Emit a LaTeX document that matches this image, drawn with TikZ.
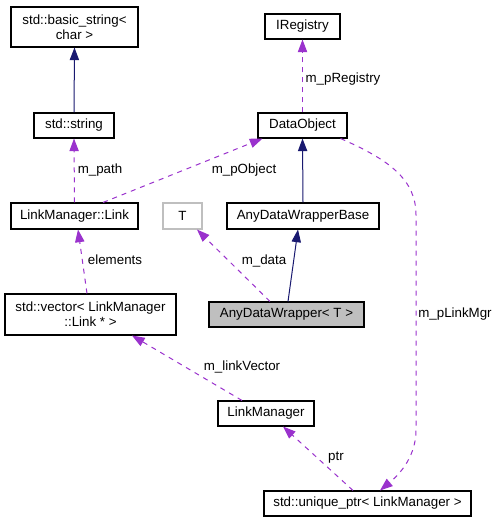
\documentclass[tikz,border=0pt]{standalone}
\usepackage{fontspec}
\setmainfont{Liberation Sans}
\usetikzlibrary{arrows.meta,calc,positioning}
\definecolor{inhblue}{HTML}{191970}
\definecolor{usepurple}{HTML}{9A32CD}
\definecolor{tmplgrey}{HTML}{BFBFBF}

\begin{document}
\begin{tikzpicture}[x=0.75pt,y=-0.75pt,
    cls/.style={draw, line width=0.8pt, fill=white, inner sep=0pt, align=center, font=\fontsize{10}{11}\selectfont},
    sz/.style 2 args={minimum width=#1*0.75pt, minimum height=#2*0.75pt},
    inh/.style={draw=inhblue, line width=0.75pt, -{Triangle[length=9.5pt,width=7pt]}},
    usage/.style={draw=usepurple, line width=0.75pt, dash pattern=on 3.75pt off 3.75pt, -{Triangle[length=9.5pt,width=7pt]}},
    lbl/.style={inner sep=0pt, font=\fontsize{10}{11}\selectfont}]
    \fill[white] (0,0) rectangle (497,523);
    \useasboundingbox (0,0) rectangle (497,523);
    % classes
    \node[cls, sz={127}{40}] (bstr) at (74.5,27) {std::basic\_string<\\char >};
    \node[cls, sz={80}{25}] (str) at (74,125.5) {std::string};
    \node[cls, sz={127}{26}] (link) at (74.5,216) {LinkManager::Link};
    \node[cls, draw=tmplgrey, sz={39}{26}] (tparam) at (182.5,216) {T};
    \node[cls, sz={75}{25}] (ireg) at (302.5,26.5) {IRegistry};
    \node[cls, sz={89}{25}] (dobj) at (302.5,125.5) {DataObject};
    \node[cls, sz={152}{26}] (adwb) at (303,216) {AnyDataWrapperBase};
    \node[cls, fill=tmplgrey, sz={155}{25}] (adw) at (286.5,314.5) {AnyDataWrapper< T >};
    \node[cls, sz={171}{41}] (vec) at (90.5,314.5) {std::vector< LinkManager\\::Link * >};
    \node[cls, sz={96}{25}] (lmgr) at (266,413.5) {LinkManager};
    \node[cls, sz={207}{25}] (uptr) at (367.5,503.5) {std::unique\_ptr< LinkManager >};
    % inheritance
    \draw[inh] (str.north) -- (bstr.south);
    \draw[inh] (adwb.north) -- (dobj.south);
    \draw[inh] ($(adw.north)+(1.5,0)$) -- ($(adwb.south)+(-5,0)$);
    % usage
    \draw[usage] (dobj.north) -- (ireg.south) node[lbl] at (343,79) {m\_pRegistry};
    \draw[usage] (link.north) -- (str.south) node[lbl] at (100,170) {m\_path};
    \draw[usage] ($(link.north)+(28.5,0)$) -- ($(dobj.south)+(-40,0)$) node[lbl] at (244,170) {m\_pObject};
    \draw[usage] ($(adw.north)+(-16.5,0)$) -- ($(tparam.south)+(14.5,0)$) node[lbl] at (264,261) {m\_data};
    \draw[usage] ($(vec.north)+(-3.5,0)$) -- ($(link.south)+(3.5,0)$) node[lbl] at (115,260) {elements};
    \draw[usage] ($(lmgr.north)+(-24,0)$) -- ($(vec.south)+(41.5,0)$) node[lbl] at (242,367) {m\_linkVector};
    \draw[usage] ($(uptr.north)+(-14.5,0)$) -- ($(lmgr.south)+(17,0)$) node[lbl] at (336,458) {ptr};
    \draw[usage] ($(dobj.south east)+(-7,0)$) .. controls (390,160) and (416,180) .. (416,215) -- (416,430)
        .. controls (416,460) and (395,478) .. ($(uptr.north)+(12.5,0)$) node[lbl] at (455,314) {m\_pLinkMgr};
\end{tikzpicture}
\end{document}
